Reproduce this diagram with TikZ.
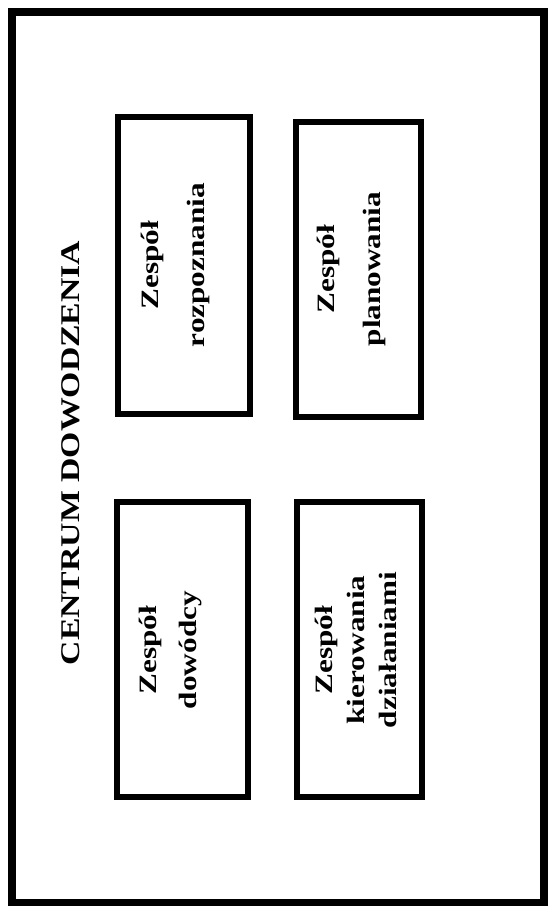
\documentclass[tikz,border=0pt]{standalone}
\usepackage{fontspec}
\setmainfont{Liberation Serif}[FakeStretch=1.25]
\begin{document}
\begin{tikzpicture}[x=1pt,y=-1pt,
  frame/.style={draw=black, line width=8pt, inner sep=0pt},
  unit/.style={draw=black, line width=6.5pt, inner sep=0pt, fill=white},
  unitlabel/.style={rotate=90, align=center, inner sep=0pt, font=\fontsize{25}{46}\selectfont\bfseries},
  titlelabel/.style={rotate=90, inner sep=0pt, font=\fontsize{27}{32}\selectfont\bfseries}]
\useasboundingbox (0,0) rectangle (550,906);
\fill[white] (0,0) rectangle (550,906);
\node[frame, minimum width=532pt, minimum height=891pt] (outer) at (278,457.5) {};
\node[unit, minimum width=132pt, minimum height=297pt] (b1) at (184,265.5) {};
\node[unit, minimum width=125pt, minimum height=295pt] (b2) at (358.5,269.5) {};
\node[unit, minimum width=131pt, minimum height=295pt] (b3) at (182.5,649.5) {};
\node[unit, minimum width=125pt, minimum height=295pt] (b4) at (359.5,649.5) {};
\node[titlelabel] (title) at (71,453) {CENTRUM DOWODZENIA};
\node[unitlabel] (t1) at (175,265) {Zespół\\rozpoznania};
\node[unitlabel] (t2) at (351,269) {Zespół\\planowania};
\node[unitlabel, font=\fontsize{25}{40}\selectfont\bfseries] (t3) at (171,650) {Zespół\\dowódcy};
\node[unitlabel, font=\fontsize{25}{32}\selectfont\bfseries] (t4) at (356,650) {Zespół\\kierowania\\działaniami};
\end{tikzpicture}
\end{document}
